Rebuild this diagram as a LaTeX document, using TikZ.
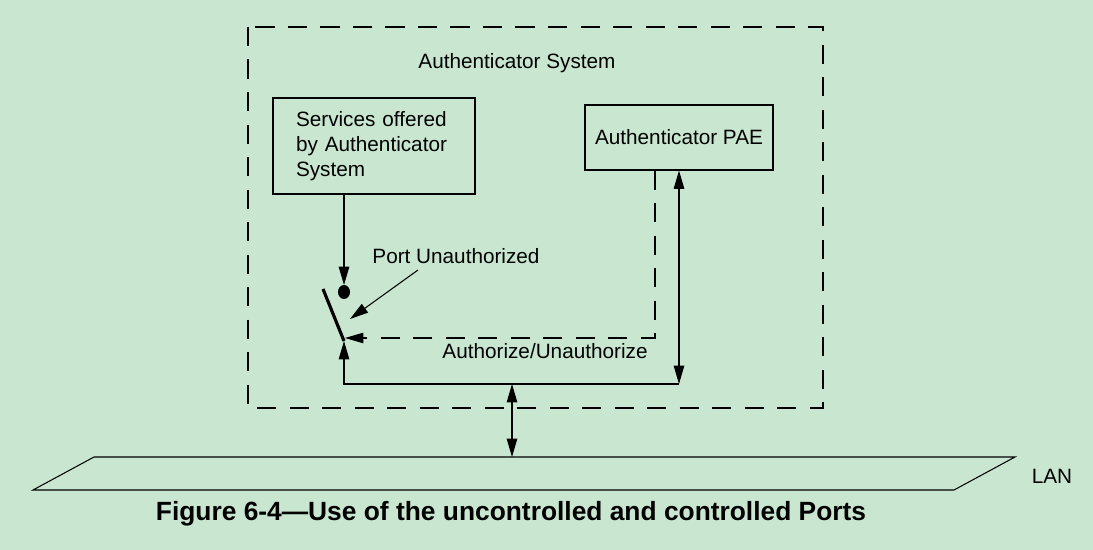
\documentclass[tikz,border=0pt]{standalone}
\usepackage{fontspec}
\setmainfont{Liberation Sans}
\usetikzlibrary{arrows.meta}
\definecolor{paper}{RGB}{201,231,208}
\tikzset{
  BoxStyle/.style = {draw, line width=0.6pt, inner sep=0pt},
  TextStyle/.style = {font=\fontsize{11.8}{14.2}\selectfont, inner sep=0pt},
  LineStyle/.style = {line width=0.6pt},
  CtrlStyle/.style = {line width=0.6pt, dash pattern=on 11pt off 7.5pt},
  Tip/.style = {-{Triangle[length=10.5pt,width=6pt]}},
  TwoTip/.style = {{Triangle[length=10.5pt,width=6pt]}-{Triangle[length=10.5pt,width=6pt]}} }

\begin{document}
\begin{tikzpicture}[x=0.02cm, y=-0.02cm]
  \fill[paper] (0,0) rectangle (1093,550);
  \useasboundingbox (0,0) rectangle (1093,550);
  \draw[CtrlStyle] (248,27) rectangle (823,408);
  \node[TextStyle] (sys) at (517,63) {Authenticator System};
  \node[BoxStyle, TextStyle, minimum width=4.04cm, minimum height=1.92cm,
        text width=3.12cm, inner xsep=0.46cm, align=left] (svc) at (374,146)
       {Services offered\\ by Authenticator\\ System};
  \node[BoxStyle, TextStyle, minimum width=3.76cm, minimum height=1.3cm] (pae) at (679,137.5)
       {Authenticator PAE};
  \coordinate (dot) at (344,292);
  \coordinate (dottop) at (344,285);
  \coordinate (swtop) at (323,289);
  \coordinate (swbot) at (344,341);
  \coordinate (swmid) at (345,338);
  \coordinate (ctl) at (655,338);
  \coordinate (cornerL) at (344,384);
  \coordinate (cornerR) at (679,384);
  \coordinate (lanin) at (512,384);
  \fill (dot) ellipse (6 and 7);
  \draw[LineStyle, Tip] (svc.south -| dot) -- (dottop);
  \draw[line width=1.8pt] (swtop) -- (swbot);
  \node[TextStyle] (port) at (456,256) {Port Unauthorized};
  \draw[LineStyle, Tip] (418,270) -- (350,319);
  \draw[CtrlStyle, Tip] (pae.south -| ctl) -- (ctl) -- (swmid);
  \node[TextStyle] (auth) at (545,351) {Authorize/Unauthorize};
  \draw[LineStyle, Tip] (cornerR) -- (cornerL) -- (swbot);
  \draw[LineStyle, TwoTip] (pae.south -| cornerR) -- (cornerR);
  \draw[LineStyle] (94,457) coordinate (lanA) -- (1015,457) coordinate (lanB)
        -- (954,490) coordinate (lanC) -- (33,490) coordinate (lanD) -- cycle;
  \draw[LineStyle, TwoTip] (lanin) -- (lanin |- lanA);
  \node[TextStyle] (lan) at (1052,476) {LAN};
  \node[inner sep=0pt, font=\fontsize{15}{18}\selectfont\bfseries] (cap) at (511,514)
       {Figure 6-4—Use of the uncontrolled and controlled Ports};
\end{tikzpicture}
\end{document}
